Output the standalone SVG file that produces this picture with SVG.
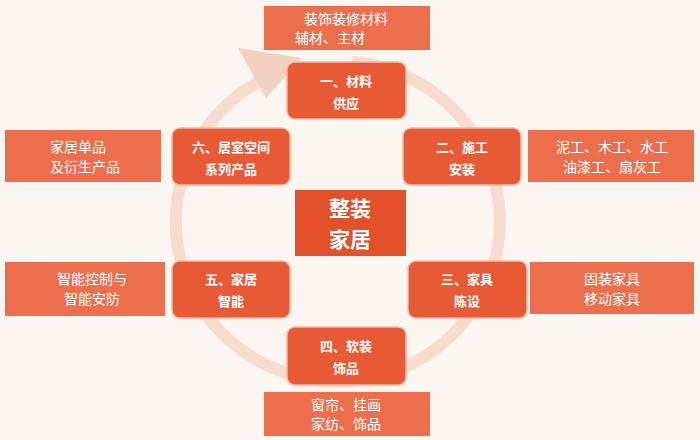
<svg xmlns="http://www.w3.org/2000/svg" width="700" height="440" viewBox="0 0 700 440">
<style>
.n{fill:#e85a36;stroke:#f3b9a4;stroke-width:1.5}
.b{fill:#ec6e4c}
.t{font-family:"Noto Sans CJK SC",sans-serif;font-size:13px;font-weight:bold;fill:#fff;text-anchor:middle}
.s{font-family:"Noto Sans CJK SC",sans-serif;font-size:14px;fill:#fff;text-anchor:middle}
.c{font-family:"Noto Sans CJK SC",sans-serif;font-size:21px;font-weight:bold;fill:#fff;text-anchor:middle}
</style>
<defs><linearGradient id="g" x1="0" y1="0" x2="0" y2="1"><stop offset="0" stop-color="#ee6a44"/><stop offset="1" stop-color="#e04a2a"/></linearGradient></defs>
<rect width="700" height="440" fill="#fcf6f3"/>
<g id="connectors">
<path d="M262,80 A162,160 0 1 0 352,62" fill="none" stroke="#f4d4c6" stroke-width="12" stroke-opacity="0.8"/>
<polygon points="238,48 302,58 266,98" fill="#f4d0c0"/>
</g>
<g id="top"><rect class="b" x="264" y="6" width="166" height="44"/><text class="s" x="346" y="24">装饰装修材料</text><text class="s" x="330" y="43">辅材、主材</text></g>
<g id="n1"><rect class="n" x="287" y="62" width="119" height="57" rx="8" fill="url(#g)"/><text class="t" x="346" y="86">一、材料</text><text class="t" x="346" y="108">供应</text></g>
<g id="n2"><rect class="n" x="403" y="128" width="118" height="57" rx="8" fill="url(#g)"/><text class="t" x="462" y="152">二、施工</text><text class="t" x="462" y="174">安装</text></g>
<g id="n3"><rect class="n" x="408" y="261" width="119" height="57" rx="8" fill="url(#g)"/><text class="t" x="467" y="284">三、家具</text><text class="t" x="467" y="306">陈设</text></g>
<g id="n4"><rect class="n" x="287" y="327" width="119" height="58" rx="8" fill="url(#g)"/><text class="t" x="346" y="351">四、软装</text><text class="t" x="346" y="373">饰品</text></g>
<g id="n5"><rect class="n" x="172" y="261" width="118" height="57" rx="8" fill="url(#g)"/><text class="t" x="231" y="284">五、家居</text><text class="t" x="231" y="306">智能</text></g>
<g id="n6"><rect class="n" x="172" y="128" width="118" height="57" rx="8" fill="url(#g)"/><text class="t" x="231" y="152">六、居室空间</text><text class="t" x="231" y="174">系列产品</text></g>
<g id="center"><rect x="295" y="190" width="111" height="66" fill="#e2502c"/><text class="c" x="350" y="216">整装</text><text class="c" x="350" y="247">家居</text></g>
<g id="l1"><rect class="b" x="5" y="130" width="156" height="52"/><text class="s" x="78" y="152">家居单品</text><text class="s" x="85" y="172">及衍生产品</text></g>
<g id="r1"><rect class="b" x="528" y="130" width="166" height="52"/><text class="s" x="612" y="152">泥工、木工、水工</text><text class="s" x="612" y="172">油漆工、扇灰工</text></g>
<g id="l2"><rect class="b" x="5" y="262" width="160" height="54"/><text class="s" x="92" y="284">智能控制与</text><text class="s" x="92" y="304">智能安防</text></g>
<g id="r2"><rect class="b" x="530" y="262" width="164" height="52"/><text class="s" x="612" y="284">固装家具</text><text class="s" x="612" y="304">移动家具</text></g>
<g id="bottom"><rect class="b" x="264" y="392" width="166" height="44"/><text class="s" x="346" y="410">窗帘、挂画</text><text class="s" x="346" y="429">家纺、饰品</text></g>
</svg>
